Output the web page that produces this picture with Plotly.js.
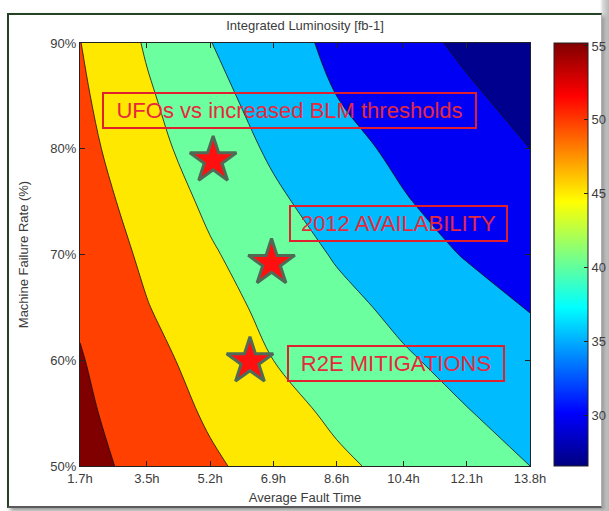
<!DOCTYPE html>
<html>
<head>
<meta charset="utf-8">
<script src="https://cdn.plot.ly/plotly-3.0.1.min.js"></script>
<style>
  html, body { margin: 0; padding: 0; background: #ffffff; }
  #wrap { position: relative; width: 609px; height: 511px; overflow: hidden;
          background: linear-gradient(to right, #ffffff 0px, #ffffff 600px, #d8d8d8 603px, #b8b8b8 609px); }
  #frame {
    position: absolute; left: 7px; top: 13px; width: 592px; height: 491px;
    border-left: 2px solid #244224; border-top: 2px solid #244224;
    border-bottom: 2px solid #5a5a5a; border-right: 1px solid #b0b0b0;
    background: #ffffff;
    box-shadow: 3px 3px 4px #9a9a9a;
  }
  #chart { position: absolute; left: 0; top: 0; width: 609px; height: 511px; }
</style>
</head>
<body>
<div id="wrap">
  <div id="frame"></div>
  <div id="chart"></div>
</div>
<script>
// Average fault time (hours) – grid columns
var faultTime = [1.7, 3.5, 5.2, 6.9, 8.6, 10.4, 12.1, 13.8];
// Machine failure rate (%) – grid rows
var failureRate = [50, 55, 60, 65, 70, 75, 80, 85, 90];
// Integrated luminosity [fb-1] (rows follow failureRate)
var lumi50 = [56.5, 53.6, 50.7, 48.2, 45.8, 43.7, 41.8, 40.0];
var lumi55 = [55.95, 52.5, 49.4, 46.7, 44.2, 42.2, 40.2, 38.4];
var lumi60 = [55.3, 51.5, 48.2, 45.0, 42.8, 40.5, 38.6, 36.7];
var lumi65 = [54.4, 50.2, 46.8, 43.8, 41.3, 38.9, 36.9, 34.8];
var lumi70 = [53.5, 49.1, 45.5, 42.5, 39.6, 37.0, 34.7, 32.7];
var lumi75 = [52.5, 47.9, 44.1, 40.8, 38.0, 35.3, 33.2, 31.3];
var lumi80 = [51.6, 46.6, 42.7, 39.3, 36.5, 34.0, 32.0, 30.0];
var lumi85 = [50.8, 45.6, 41.4, 38.0, 35.0, 32.8, 30.6, 28.6];
var lumi90 = [50.1, 44.5, 40.1, 36.9, 34.0, 31.4, 29.2, 27.0];

// Tick labels
var xTickVals = [1.7, 3.5, 5.2, 6.9, 8.6, 10.4, 12.1, 13.8];
var xTickText = ['1.7h', '3.5h', '5.2h', '6.9h', '8.6h', '10.4h', '12.1h', '13.8h'];
var yTickVals = [50, 60, 70, 80, 90];
var yTickText = ['50%', '60%', '70%', '80%', '90%'];
var cbTickVals = [30, 35, 40, 45, 50, 55];

// Scenario stars
var starX = [5.28, 6.85, 6.27];
var starY = [78.9, 69.2, 59.9];

// Scenario labels
var labelText = ['UFOs vs increased BLM thresholds', '2012 AVAILABILITY', 'R2E MITIGATIONS'];
var labelX = [7.32, 10.27, 10.19];
var labelY = [83.63, 72.95, 59.71];
var labelW = [363, 207, 206];

// contour band colours (MATLAB jet sampled at band lower level)
var bandScale = [
  [0, '#00008f'], [1/6, '#0000f5'], [2/6, '#00bcff'], [3/6, '#6cffa0'],
  [4/6, '#ffe800'], [5/6, '#ff4000'], [1, '#800000']
];
var jetScale = [
  [0, '#000080'], [0.125, '#0000ff'], [0.375, '#00ffff'],
  [0.625, '#ffff00'], [0.875, '#ff0000'], [1, '#800000']
];

var zGrid = [lumi50, lumi55, lumi60, lumi65, lumi70, lumi75, lumi80, lumi85, lumi90];

var font = "'Liberation Sans', Arial, Helvetica, sans-serif";
var txtCol = '#3c3c3c';

var traces = [
  {
    type: 'contour', x: faultTime, y: failureRate, z: zGrid,
    autocontour: false,
    contours: { start: 30, end: 55, size: 5, coloring: 'fill', showlines: true },
    line: { color: '#111', width: 0.8, smoothing: 1 },
    colorscale: bandScale, showscale: false, hoverinfo: 'skip'
  },
  {
    type: 'scatter', mode: 'markers', x: [-100], y: [-100],
    marker: {
      color: [40], cmin: 26.6, cmax: 55.2, colorscale: jetScale, showscale: true,
      colorbar: {
        x: 1.0533, xanchor: 'left', xpad: 0, ypad: 0,
        y: 0, yanchor: 'bottom', len: 1, lenmode: 'fraction',
        thickness: 34, thicknessmode: 'pixels',
        outlinecolor: '#222', outlinewidth: 1,
        tickvals: cbTickVals, ticks: 'inside', ticklen: 4, tickcolor: '#222',
        tickfont: { family: font, size: 13, color: txtCol }
      }
    },
    hoverinfo: 'skip', showlegend: false
  },
  {
    type: 'scatter', mode: 'markers', x: starX, y: starY,
    marker: { symbol: 'star', size: 35, color: '#ff1010', line: { color: '#4f6b55', width: 3 } },
    hoverinfo: 'skip', showlegend: false, cliponaxis: false
  }
];

var annotations = labelText.map(function (t, i) {
  return {
    x: labelX[i], y: labelY[i], xref: 'x', yref: 'y', text: t, showarrow: false,
    font: { family: font, size: 22, color: '#e8283c' },
    bordercolor: '#e0202c', borderwidth: 2, borderpad: 4,
    width: labelW[i], height: 25, align: 'center', valign: 'middle'
  };
});

var axisCommon = {
  showgrid: false, zeroline: false, showline: true, linecolor: '#222', linewidth: 1,
  mirror: 'ticks', ticks: 'inside', ticklen: 5, tickcolor: '#222',
  tickfont: { family: font, size: 13, color: txtCol }
};

var layout = {
  width: 609, height: 511,
  margin: { l: 80, r: 79, t: 43, b: 45, autoexpand: false },
  paper_bgcolor: 'rgba(0,0,0,0)', plot_bgcolor: '#ffffff',
  showlegend: false,
  title: {
    text: 'Integrated Luminosity [fb-1]', x: 0.5, xref: 'paper', xanchor: 'center',
    y: 0.951, yref: 'container', yanchor: 'middle',
    font: { family: font, size: 13, color: txtCol }
  },
  xaxis: Object.assign({}, axisCommon, {
    range: [1.7, 13.8], tickvals: xTickVals, ticktext: xTickText,
    title: { text: 'Average Fault Time', standoff: 8, font: { family: font, size: 13, color: txtCol } }
  }),
  yaxis: Object.assign({}, axisCommon, {
    range: [50, 90], tickvals: yTickVals, ticktext: yTickText,
    title: { text: 'Machine Failure Rate (%)', standoff: 18, font: { family: font, size: 13, color: txtCol } }
  }),
  annotations: annotations
};

Plotly.newPlot('chart', traces, layout, { staticPlot: true, displayModeBar: false });
</script>
</body>
</html>
